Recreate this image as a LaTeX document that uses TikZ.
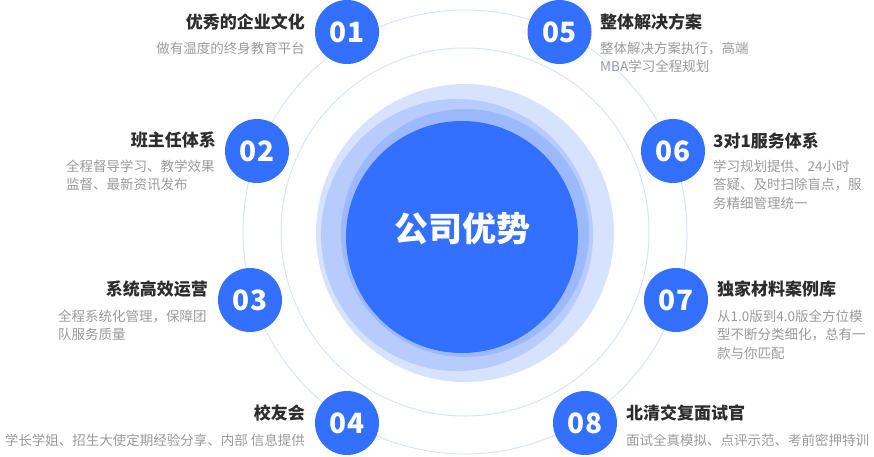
\documentclass[tikz,border=0pt]{standalone}
\usepackage{fontspec}
\setmainfont{Noto Sans CJK SC}
\definecolor{mainblue}{HTML}{3370FF}
\definecolor{ringc}{HTML}{D8E3FD}
\definecolor{haloa}{HTML}{D6E2FE}
\definecolor{halob}{HTML}{B7CBFD}
\definecolor{haloc}{HTML}{9CB9FE}
\definecolor{titlec}{HTML}{2D2D2D}
\definecolor{subc}{HTML}{9A9A9A}
\begin{document}
\begin{tikzpicture}[x=1pt,y=-1pt,
  ring/.style={draw=ringc, line width=1pt},
  num/.style={circle, fill=mainblue, minimum size=64pt, inner sep=0pt, text=white, font=\fontsize{28}{28}\selectfont\bfseries},
  ttl/.style={inner sep=0pt, text=titlec, font=\fontsize{17}{20}\selectfont\bfseries},
  sub/.style={inner sep=0pt, text=subc, align=left, font=\fontsize{13.5}{18.7}\selectfont},
  subr/.style={sub, align=right}]
\useasboundingbox (0,0) rectangle (874,456);
% thin rings
\draw[ring] (465,232) circle[radius=222];
\draw[ring] (465,232) circle[radius=184];
% halo circles
\fill[haloa] (465,233) circle[radius=149];
\fill[halob] (457,235) circle[radius=136];
\fill[haloc] (465,233) circle[radius=124];
\node[circle, fill=mainblue, minimum size=232pt, inner sep=0pt] (center) at (462,237) {};
\node[text=white, font=\fontsize{34}{34}\selectfont\bfseries, inner sep=0pt] (ctext) at (462,229) {公司优势};
% number circles
\node[num] (n1) at (347,32) {01};
\node[num] (n2) at (257,151) {02};
\node[num] (n3) at (250,300) {03};
\node[num] (n4) at (347,423) {04};
\node[num] (n5) at (559.5,32) {05};
\node[num] (n6) at (673,151) {06};
\node[num] (n7) at (676,300) {07};
\node[num] (n8) at (585,423) {08};
% left texts
\node[ttl, anchor=base east] (t1) at (305,28.5) {优秀的企业文化};
\node[subr, anchor=base east] (s1) at (305,53) {做有温度的终身教育平台};
\node[ttl, anchor=base east] (t2) at (216,146.5) {班主任体系};
\node[sub, anchor=base west] (s2) at (66,189.7) {全程督导学习、教学效果\\监督、最新资讯发布};
\node[ttl, anchor=base east] (t3) at (208,295.5) {系统高效运营};
\node[sub, anchor=base west] (s3) at (58,339.7) {全程系统化管理，保障团\\队服务质量};
\node[ttl, anchor=base east] (t4) at (305,419.5) {校友会};
\node[subr, anchor=base east] (s4) at (305,445) {学长学姐、招生大使定期经验分享、内部 信息提供};
% right texts
\node[ttl, anchor=base west] (t5) at (600,28.5) {整体解决方案};
\node[sub, anchor=base west] (s5) at (600,71.7) {整体解决方案执行，高端\\MBA学习全程规划};
\node[ttl, anchor=base west] (t6) at (713,147.5) {3对1服务体系};
\node[sub, anchor=base west] (s6) at (713,208.4) {学习规划提供、24小时\\答疑、及时扫除盲点，服\\务精细管理统一};
\node[ttl, anchor=base west] (t7) at (717,295.5) {独家材料案例库};
\node[sub, anchor=base west] (s7) at (717,358.4) {从1.0版到4.0版全方位模\\型不断分类细化，总有一\\款与你匹配};
\node[ttl, anchor=base west] (t8) at (626,419.5) {北清交复面试官};
\node[sub, anchor=base west] (s8) at (626,445) {面试全真模拟、点评示范、考前密押特训};
\end{tikzpicture}
\end{document}
